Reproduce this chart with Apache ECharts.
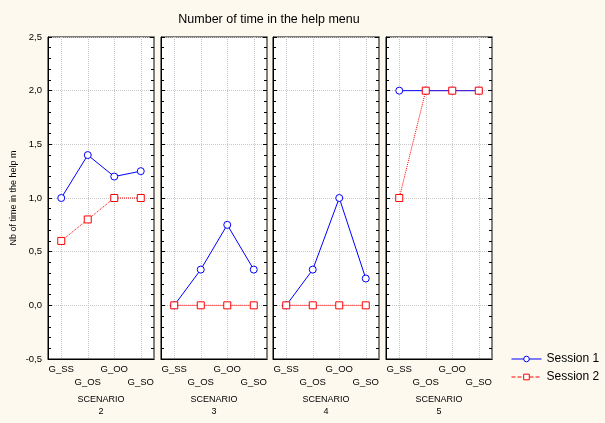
<!DOCTYPE html>
<html><head><meta charset="utf-8">
<script src="https://cdn.jsdelivr.net/npm/echarts@6/dist/echarts.min.js"></script>
<style>html,body{margin:0;padding:0;background:#fdf9ee}#c{width:605px;height:423px}</style>
</head><body><div id="c"></div>
<script>
var categories = ['G_SS', 'G_OS', 'G_OO', 'G_SO'];
var scenarios = ['2', '3', '4', '5'];
var session1 = [
  [1.0, 1.4, 1.2, 1.25],
  [0.0, 0.333, 0.75, 0.333],
  [0.0, 0.333, 1.0, 0.25],
  [2.0, 2.0, 2.0, 2.0]
];
var session2 = [
  [0.6, 0.8, 1.0, 1.0],
  [0.0, 0.0, 0.0, 0.0],
  [0.0, 0.0, 0.0, 0.0],
  [1.0, 2.0, 2.0, 2.0]
];
var yTicks = [-0.5, 0, 0.5, 1, 1.5, 2, 2.5];

var FONT = 'Liberation Sans';
var lefts = [48, 161, 273, 386];
var grids = [], xAxes = [], yAxes = [], series = [];
lefts.forEach(function (l, i) {
  grids.push({left: l, top: 37, width: 106, height: 322, show: true,
    backgroundColor: '#ffffff', borderColor: '#000', borderWidth: 1});
  xAxes.push({
    type: 'category', gridIndex: i, data: categories, boundaryGap: true,
    axisLine: {show: true, onZero: false, lineStyle: {color: '#000'}},
    axisTick: {show: false},
    splitLine: {show: true, alignWithLabel: true, interval: 0, lineStyle: {color: '#c8c8c8', type: 'dotted'}},
    axisLabel: {interval: 0, margin: 4, fontFamily: FONT, fontSize: 9.5, color: '#000', lineHeight: 13,
      formatter: function (v, idx) { return idx % 2 === 1 ? '\n' + v : v; }},
    name: 'SCENARIO\n' + scenarios[i], nameLocation: 'middle', nameGap: 31,
    nameTextStyle: {fontFamily: FONT, fontSize: 9, color: '#000', lineHeight: 12}
  });
  var base = {
    type: 'value', gridIndex: i, min: yTicks[0], max: yTicks[yTicks.length - 1], interval: 0.5
  };
  yAxes.push(Object.assign({}, base, {
    position: 'left',
    axisLine: {show: true, onZero: false, lineStyle: {color: '#000'}},
    axisTick: {show: true, inside: true, length: 4, lineStyle: {color: '#000'}},
    minorTick: {show: true, splitNumber: 5, length: 3, lineStyle: {color: '#000'}},
    splitLine: {show: true, lineStyle: {color: '#c8c8c8', type: 'dotted'}},
    axisLabel: {show: i === 0, margin: 6, fontFamily: FONT, fontSize: 9.5, color: '#000',
      formatter: function (v) { return v.toFixed(1).replace('.', ','); }},
    name: i === 0 ? 'Nb of time in the help m' : '', nameLocation: 'middle', nameRotate: 90, nameGap: 30,
    nameTextStyle: {fontFamily: FONT, fontSize: 9, color: '#000'}
  }));
  yAxes.push(Object.assign({}, base, {
    position: 'right',
    axisLine: {show: true, onZero: false, lineStyle: {color: '#808080', width: 2}},
    axisTick: {show: true, inside: true, length: 4, lineStyle: {color: '#000'}},
    minorTick: {show: true, splitNumber: 5, length: 3, lineStyle: {color: '#000'}},
    splitLine: {show: false},
    axisLabel: {show: false}
  }));
  series.push({
    name: 'Session 1', type: 'line', xAxisIndex: i, yAxisIndex: 2 * i, data: session1[i],
    symbol: 'circle', symbolSize: 7, z: 3,
    lineStyle: {color: '#0000ff', width: 1},
    itemStyle: {color: '#ffffff', borderColor: '#0000ff', borderWidth: 1},
    emphasis: {disabled: true}, animation: false
  });
  series.push({
    name: 'Session 2', type: 'line', xAxisIndex: i, yAxisIndex: 2 * i, data: session2[i],
    symbol: 'rect', symbolSize: 7, z: 4,
    lineStyle: {color: '#ff0000', width: 1, type: 'dotted'},
    itemStyle: {color: '#ffffff', borderColor: '#ff0000', borderWidth: 1},
    emphasis: {disabled: true}, animation: false
  });
});

var chart = echarts.init(document.getElementById('c'));
chart.setOption({
  backgroundColor: '#fdf9ee',
  animation: false,
  title: {text: 'Number of time in the help menu', left: 264, textAlign: 'center', top: 8,
    textStyle: {fontFamily: FONT, fontSize: 12.5, fontWeight: 'normal', color: '#000'}},
  legend: {orient: 'vertical', left: 506, top: 348, itemWidth: 30, itemHeight: 7, itemGap: 6,
    data: [
      {name: 'Session 1', lineStyle: {width: 1, type: 'solid', color: '#0000ff'}},
      {name: 'Session 2', lineStyle: {width: 1, type: 'dashed', color: '#ff0000'}}
    ],
    itemStyle: {borderWidth: 1},
    textStyle: {fontFamily: FONT, fontSize: 12, color: '#000'}},
  grid: grids, xAxis: xAxes, yAxis: yAxes, series: series
});
</script></body></html>
